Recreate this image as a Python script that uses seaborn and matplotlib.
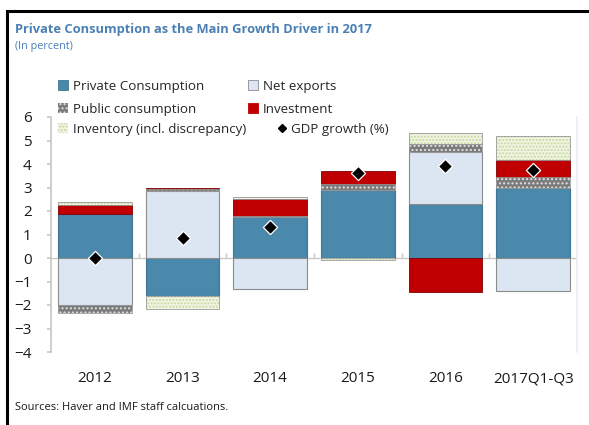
import numpy as np
import matplotlib
matplotlib.use("Agg")
import matplotlib.pyplot as plt
import seaborn as sns
from matplotlib.patches import Patch, Rectangle
from matplotlib.lines import Line2D

# Contributions to growth (percentage points)
years = ["2012", "2013", "2014", "2015", "2016", "2017Q1-Q3"]
private_consumption = [1.89, -1.63, 1.76, 2.89, 2.29, 2.99]
net_exports = [-2.02, 2.84, -1.30, 0.00, 2.23, -1.41]
public_consumption = [-0.34, 0.08, 0.02, 0.26, 0.35, 0.44]
investment = [0.38, 0.07, 0.72, 0.56, -1.44, 0.72]
inventory = [0.10, -0.53, 0.11, -0.10, 0.47, 1.03]
gdp_growth = [0.02, 0.85, 1.33, 3.61, 3.92, 3.74]

sns.set_theme(style="white")
plt.rcParams["font.family"] = ["Open Sans", "DejaVu Sans"]
plt.rcParams["hatch.linewidth"] = 1.0

W, H = 589, 425
fig = plt.figure(figsize=(W / 100, H / 100), dpi=100)
ax = fig.add_axes([51 / W, 1 - 352 / H, (577 - 51) / W, (352 - 117) / H])

BLUE = "#4a89ac"
LIGHT = "#dce6f2"
RED = "#c00000"
GRAY = "#7a7a7a"
GREEN_BG = "#f0f5e3"

layers = [
    ("Private Consumption", private_consumption,
     dict(color=BLUE, edgecolor="#3f7494", linewidth=0.8)),
    ("Net exports", net_exports,
     dict(color=LIGHT, edgecolor="#8c8c8c", linewidth=0.8)),
    ("Public consumption", public_consumption,
     dict(color=GRAY, edgecolor="#e0e0e0", linewidth=0, hatch="....")),
    ("Investment", investment,
     dict(color=RED, edgecolor="#7f0000", linewidth=0.6)),
    ("Inventory (incl. discrepancy)", inventory,
     dict(color=GREEN_BG, edgecolor="#c4d79b", linewidth=0, hatch=".....")),
]

pos_base = np.zeros(len(years))
neg_base = np.zeros(len(years))
for name, vals, style in layers:
    v = np.asarray(vals, dtype=float)
    bottom = np.where(v >= 0, pos_base, neg_base)
    color = style.pop("color")
    sns.barplot(x=years, y=v, order=years, bottom=bottom, width=0.84,
                color=color, saturation=1, errorbar=None, ax=ax,
                zorder=2, **style)
    if "hatch" in style:
        # thin outline around the hatched segments
        sns.barplot(x=years, y=v, order=years, bottom=bottom, width=0.84,
                    color=color, saturation=1, errorbar=None, ax=ax,
                    facecolor="none", edgecolor="#9a9a9a", linewidth=0.6,
                    zorder=2.1)
    pos_base = np.where(v >= 0, pos_base + v, pos_base)
    neg_base = np.where(v < 0, neg_base + v, neg_base)

# GDP growth markers
sns.scatterplot(x=np.arange(len(years)), y=gdp_growth, marker="D", s=52,
                color="black", edgecolor="white", linewidth=0.9, ax=ax,
                zorder=5, legend=False)

# axes styling
ax.set_xlim(-0.5, len(years) - 0.5)
ax.set_ylim(-4, 6)
ax.set_yticks(range(-4, 7))
ax.axhline(0, color="#c8c8c8", lw=1, zorder=1)
ax.vlines(np.arange(0.5, len(years)), 0, 0.2, color="#c8c8c8", lw=1, zorder=1)
for side in ("top", "bottom"):
    ax.spines[side].set_visible(False)
ax.spines["left"].set_color("#c8c8c8")
ax.spines["right"].set_color("#ededed")
ax.tick_params(axis="y", length=3, color="#c8c8c8", pad=11, labelsize=11,
               labelcolor="#1a1a1a", left=True)
ax.tick_params(axis="x", length=0, pad=14, labelsize=11, labelcolor="#1a1a1a")
ax.set_xlabel("")
ax.set_ylabel("")
ax.grid(False)

# legend: two rows in two columns, third row flows after its first entry
leg_kw = dict(frameon=False, fontsize=9.6, handlelength=0.75,
              handleheight=0.75, handletextpad=0.35, labelspacing=0.72,
              borderaxespad=0, borderpad=0, loc="upper left")
handles_top = [
    Patch(facecolor=BLUE, edgecolor="#3f7494", lw=0.6),
    Patch(facecolor=GRAY, edgecolor="#e0e0e0", hatch="....", lw=0),
    Patch(facecolor=LIGHT, edgecolor="#8c8c8c", lw=0.6),
    Patch(facecolor=RED, edgecolor=RED, lw=0.6),
]
labels_top = ["Private Consumption", "Public consumption",
              "Net exports", "Investment"]
fig.legend(handles_top, labels_top, ncol=2, columnspacing=3.3,
           bbox_to_anchor=(58 / W, 1 - 80 / H), **leg_kw)
handles_bot = [
    Patch(facecolor=GREEN_BG, edgecolor="#c4d79b", hatch=".....", lw=0),
    Line2D([], [], marker="D", color="black", markersize=4.5, lw=0),
]
labels_bot = ["Inventory (incl. discrepancy)", "GDP growth (%)"]
fig.legend(handles_bot, labels_bot, ncol=2, columnspacing=2.3,
           bbox_to_anchor=(58 / W, 1 - 123 / H), **leg_kw)

# titles and source
fig.text(15 / W, 1 - 29 / H, "Private Consumption as the Main Growth Driver in 2017",
         fontsize=9.3, fontweight="bold", color="#4a80b4", va="center")
fig.text(15 / W, 1 - 47 / H, "(In percent)", fontsize=7.8, color="#4a80b4",
         va="center")
fig.text(15 / W, 1 - 407 / H, "Sources: Haver and IMF staff calcuations.",
         fontsize=8, color="#1a1a1a", va="center")

# frame around the panel
fig.add_artist(Rectangle((7 / W, -0.1), 1.2, (1 - 11 / H) + 0.1,
                         transform=fig.transFigure, fill=False, lw=2.2,
                         ec="black", clip_on=False))

fig.savefig("out.png", dpi=100)
